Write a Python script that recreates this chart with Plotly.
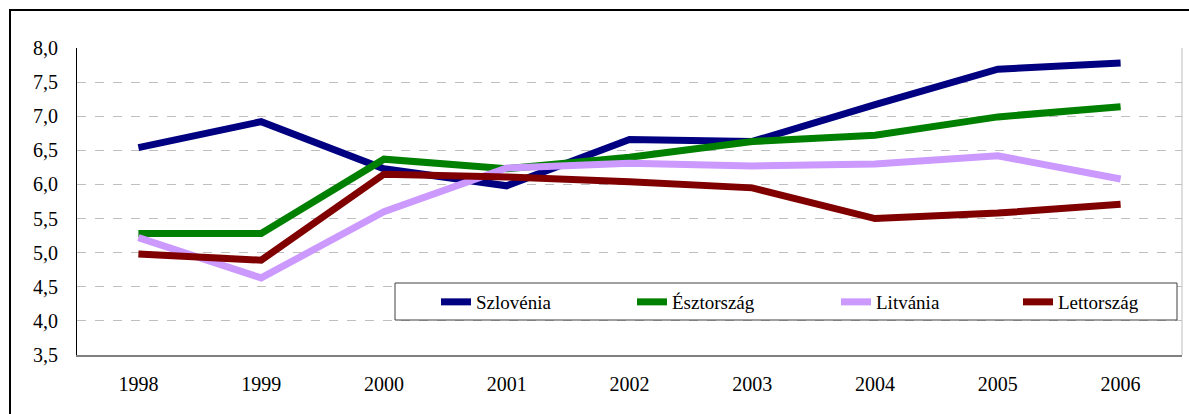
import plotly.graph_objects as go

years = ["1998", "1999", "2000", "2001", "2002", "2003", "2004", "2005", "2006"]
szlovenia = [6.54, 6.92, 6.23, 5.98, 6.66, 6.63, 7.17, 7.69, 7.78]
esztorszag = [5.28, 5.28, 6.37, 6.23, 6.40, 6.63, 6.72, 6.99, 7.14]
litvania = [5.22, 4.63, 5.60, 6.24, 6.31, 6.27, 6.30, 6.42, 6.08]
lettorszag = [4.98, 4.89, 6.15, 6.11, 6.04, 5.95, 5.50, 5.58, 5.71]

series = [
    ("Szlovénia", szlovenia, "#000080"),
    ("Észtország", esztorszag, "#008000"),
    ("Litvánia", litvania, "#CC99FF"),
    ("Lettország", lettorszag, "#800000"),
]
legend_ids = ["legend", "legend2", "legend3", "legend4"]
legend_text_x = [476, 672, 876, 1058]  # page x where each legend label starts

fig = go.Figure()
for (name, vals, col), lid in zip(series, legend_ids):
    fig.add_trace(go.Scatter(x=years, y=vals, name=name, mode="lines", legend=lid,
                             line=dict(color=col, width=7)))

font = "Liberation Serif"
# plot area targeted at x 77..1182, y 48..355
PW, PH = 1105, 307
def px(x):
    return (x - 77) / PW
def py(y):
    return (355 - y) / PH

legends = {}
for lid, tx in zip(legend_ids, legend_text_x):
    legends[lid] = dict(orientation="h", x=px(tx - 40), y=py(283),
                        xanchor="left", yanchor="top",
                        bgcolor="rgba(0,0,0,0)", borderwidth=0,
                        font=dict(family=font, size=19, color="black"))

fig.update_layout(
    width=1189, height=414,
    margin=dict(l=77, r=7, t=48, b=59),
    paper_bgcolor="white", plot_bgcolor="white",
    separators=", ",
    font=dict(family=font, size=20, color="black"),
    showlegend=True,
    xaxis=dict(type="category", range=[-0.5, 8.5], showgrid=False,
               showline=True, linecolor="#808080", linewidth=2,
               ticks="", ticklabelstandoff=10,
               tickfont=dict(family=font, size=20, color="black")),
    yaxis=dict(range=[3.5, 8.0], dtick=0.5, tick0=3.5, tickformat=".1f",
               showgrid=True, gridcolor="#BFBFBF", griddash="dash", gridwidth=1,
               showline=True, linecolor="#000000", linewidth=1,
               zeroline=False, ticks="", ticklabelstandoff=14,
               tickfont=dict(family=font, size=20, color="black")),
    shapes=[
        dict(type="line", xref="paper", yref="paper", x0=1, x1=1, y0=0, y1=1,
             line=dict(color="#BFBFBF", width=1)),
        dict(type="rect", xref="paper", yref="paper",
             x0=px(395), x1=px(1177), y0=py(320), y1=py(283),
             line=dict(color="#404040", width=1), fillcolor="white", layer="above"),
        dict(type="rect", xref="paper", yref="paper",
             x0=px(10), x1=1.2, y0=-0.4, y1=py(10),
             line=dict(color="black", width=2), fillcolor="rgba(0,0,0,0)"),
    ],
    **legends,
)

fig.write_html("out.html", config={"displayModeBar": False},
               post_script="document.body.style.margin='0';document.body.style.overflow='hidden';")
